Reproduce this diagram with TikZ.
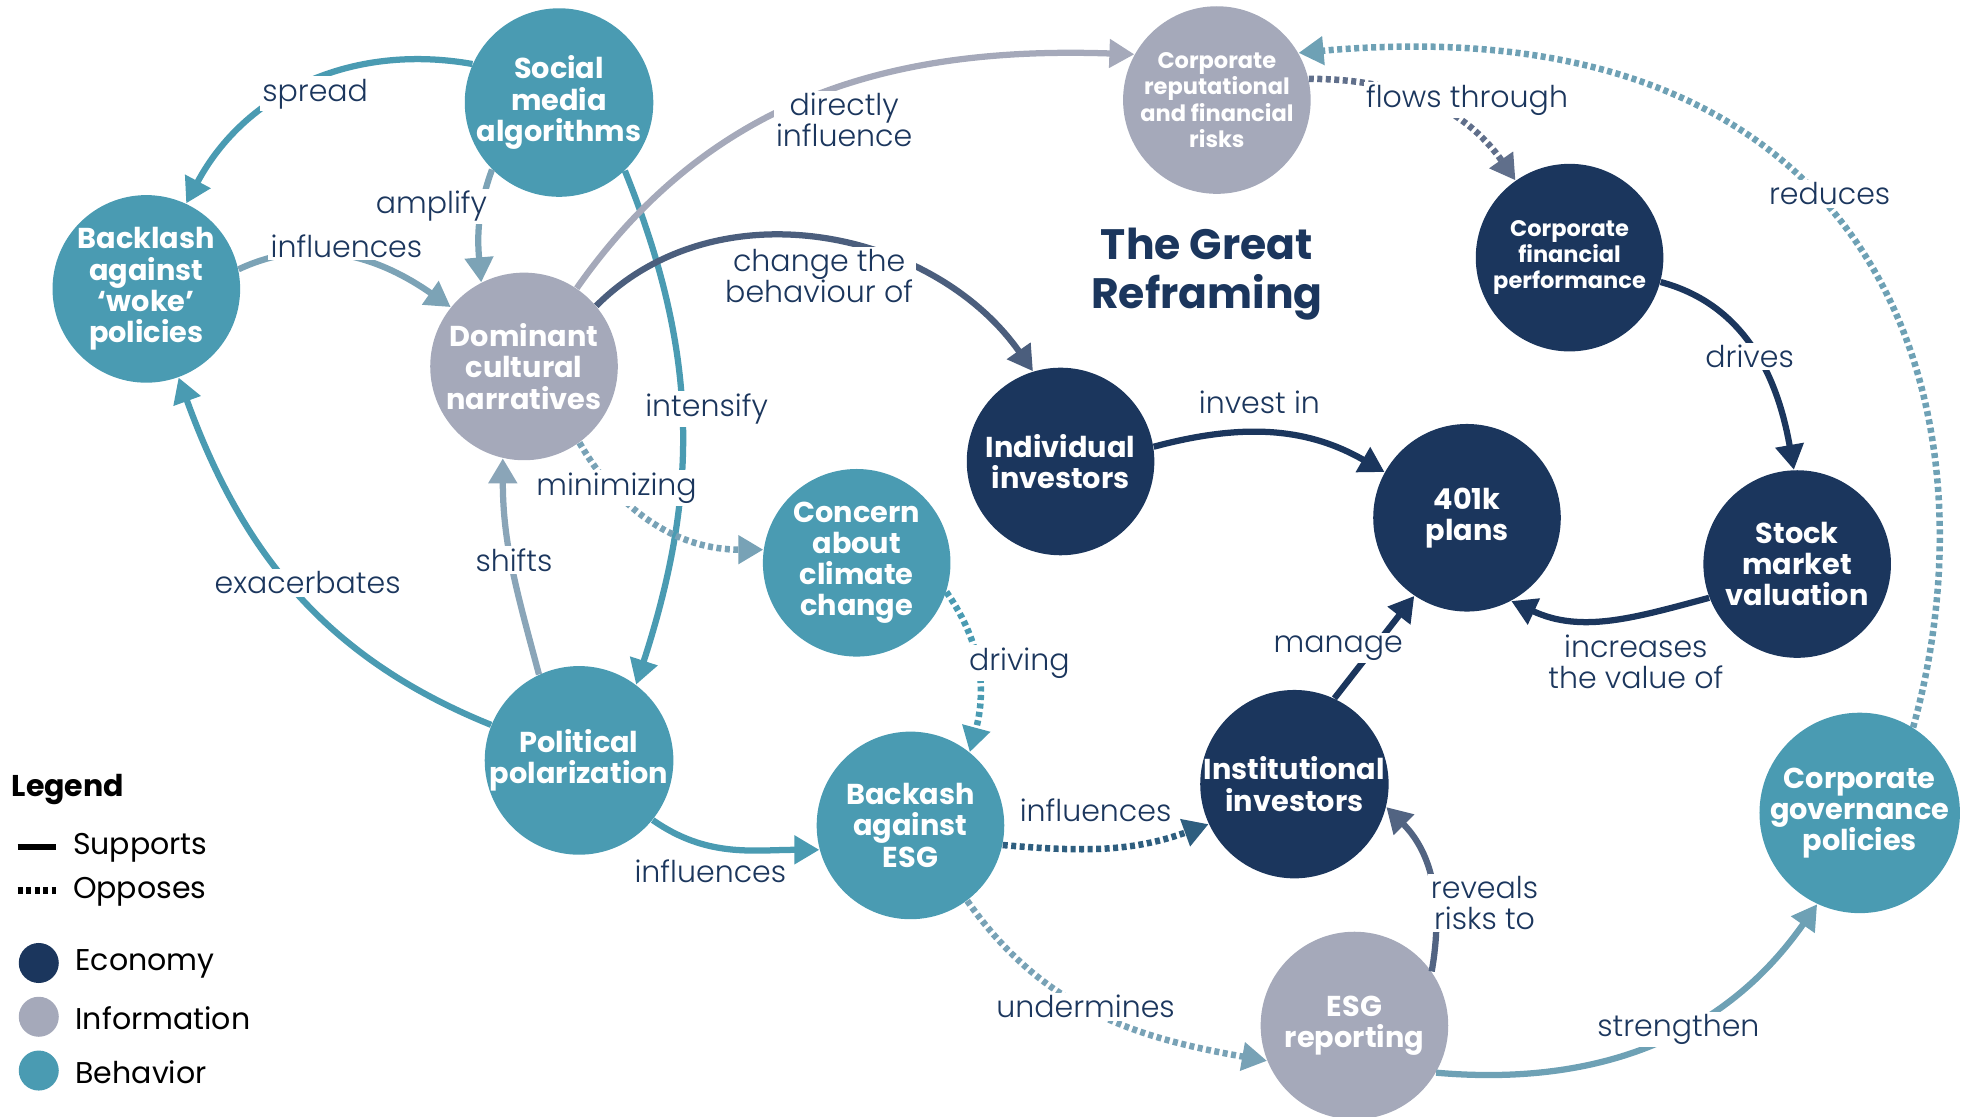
\documentclass[tikz,border=0pt]{standalone}
\usepackage{fontspec}
\setmainfont{Poppins}
\newfontfamily\lightfont{Poppins Light}
\usetikzlibrary{arrows.meta}
\definecolor{econ}{HTML}{1B365D}
\definecolor{info}{HTML}{A5A9BA}
\definecolor{behav}{HTML}{4A9BB2}

\begin{document}
\begin{tikzpicture}[x=0.5pt,y=0.5pt,
  factor/.style={circle, minimum size=75pt, inner sep=0pt, align=center, text=white,
    font=\bfseries\fontsize{11.5}{12.5}\selectfont},
  small/.style={font=\bfseries\fontsize{9}{10.5}\selectfont},
  economy/.style={factor, fill=econ},
  information/.style={factor, fill=info},
  behaviour/.style={factor, fill=behav},
  supports/.style={line width=2.5pt, -{Triangle[length=10pt,width=11pt]}},
  opposes/.style={line width=2.6pt, dash pattern=on 2pt off 1.4pt, -{Triangle[length=10pt,width=11pt]}},
  lbl/.style={fill=white, inner sep=1pt, align=center, text=econ,
    font=\lightfont\fontsize{12}{12.5}\selectfont},
  legtxt/.style={anchor=west, inner sep=0pt, font=\fontsize{12}{14}\selectfont}]
\useasboundingbox (0,0) rectangle (1568,-893);

% factors
\node[behaviour] (sma) at (447,-82) {Social\\media\\algorithms};
\node[behaviour] (bw) at (117,-231) {Backlash\\against\\‘woke’\\policies};
\node[information] (dcn) at (419,-293) {Dominant\\cultural\\narratives};
\node[information, small] (crf) at (973,-80) {Corporate\\reputational\\and financial\\risks};
\node[economy, small] (cfp) at (1255,-206) {Corporate\\financial\\performance};
\node[economy] (ii) at (848,-369) {Individual\\investors};
\node[economy] (pk) at (1173,-414) {401k\\plans};
\node[economy] (smv) at (1437,-451) {Stock\\market\\valuation};
\node[behaviour] (ccc) at (685,-450) {Concern\\about\\climate\\change};
\node[behaviour] (pp) at (463,-608) {Political\\polarization};
\node[behaviour] (bae) at (728,-660) {Backash\\against\\ESG};
\node[economy] (ins) at (1035,-627) {Institutional\\investors};
\node[behaviour] (cgp) at (1487,-650) {Corporate\\governance\\policies};
\node[information] (esg) at (1083,-820) {ESG\\reporting};

\node[text=econ, align=center, font=\bfseries\fontsize{17}{19.5}\selectfont] (title) at (965,-219) {The Great\\Reframing};

% links
\draw[supports, behav] (sma.156) to[out=170,in=62] (bw.65);
\draw[supports, behav!45!info] (sma.225) to[out=250,in=95] (dcn.117);
\draw[supports, behav!45!info] (bw.12) to[out=25,in=145] (dcn.141);
\draw[supports, behav] (sma.-46) to[out=-68,in=72] (pp.53);
\draw[supports, info] (dcn.56) to[out=55,in=178] (crf.151);
\draw[supports, econ!65!info] (dcn.40) to[out=45,in=125] (ii.107);
\draw[opposes, behav!50!info] (dcn.-54) to[out=-60,in=180] (ccc.172);
\draw[supports, info!70!behav] (pp.115) to[out=105,in=-90] (dcn.257);
\draw[supports, behav] (pp.158) to[out=158,in=-70] (bw.-70);
\draw[supports, behav] (pp.-39) to[out=-35,in=180] (bae.195);
\draw[opposes, behav] (ccc.-18) to[out=-55,in=75] (bae.51);
\draw[opposes, econ!60!behav] (bae.-12) to[out=-5,in=200] (ins.205);
\draw[supports, econ] (ins.65) -- (pk.236);
\draw[supports, econ] (ii.9) to[out=15,in=150] (pk.151);
\draw[opposes, econ!50!info] (crf.13) to[out=0,in=125] (cfp.125);
\draw[supports, econ] (cfp.-15) to[out=-15,in=100] (smv.92);
\draw[supports, econ] (smv.201) to[out=195,in=-25] (pk.-62);
\draw[supports, econ!60!info] (esg.35) to[out=80,in=-45] (ins.-14);
\draw[supports, behav!60!info] (esg.-30) to[out=-5,in=235] (cgp.245);
\draw[opposes, behav!50!info] (bae.-53) to[out=-55,in=170] (esg.202);
\draw[opposes, behav!60!info] (cgp.58) .. controls (1600,-330) and (1510,0) .. (crf.30);

% link labels
\node[lbl] (l-spread) at (252,-75) {spread};
\node[lbl] (l-amplify) at (345,-165) {amplify};
\node[lbl] (l-infl1) at (277,-197) {influences};
\node[lbl] (l-direct) at (675,-96) {directly\\influence};
\node[lbl] (l-change) at (655,-221) {change the\\behaviour of};
\node[lbl] (l-intens) at (565,-327) {intensify};
\node[lbl] (l-minim) at (493,-390) {minimizing};
\node[lbl] (l-shifts) at (411,-448) {shifts};
\node[lbl] (l-exac) at (246,-466) {exacerbates};
\node[lbl] (l-driving) at (815,-530) {driving};
\node[lbl] (l-infl2) at (568,-697) {influences};
\node[lbl] (l-infl3) at (876,-648) {influences};
\node[lbl] (l-under) at (868,-805) {undermines};
\node[lbl] (l-manage) at (1070,-518) {manage};
\node[lbl] (l-invest) at (1007,-322) {invest in};
\node[lbl] (l-flows) at (1173,-80) {flows through};
\node[lbl] (l-drives) at (1399,-285) {drives};
\node[lbl] (l-incr) at (1308,-529) {increases\\the value of};
\node[lbl] (l-reveal) at (1187,-722) {reveals\\risks to};
\node[lbl] (l-streng) at (1342,-823) {strengthen};
\node[lbl] (l-reduce) at (1463,-155) {reduces};

% legend
\node[legtxt, font=\bfseries\fontsize{12}{14}\selectfont] (legend) at (9,-631) {Legend};
\draw[line width=2.5pt] (14,-677) -- (45,-677);
\draw[line width=2.6pt, dash pattern=on 2pt off 1.4pt] (14,-712) -- (45,-712);
\node[legtxt] (l-sup) at (58,-678) {Supports};
\node[legtxt] (l-opp) at (58,-713) {Opposes};
\foreach \c/\t/\y in {econ/Economy/770, info/Information/813, behav/Behavior/856}{
  \fill[\c] (31,-\y) circle (16);
  \node[legtxt] at (60,-\y-1) {\t};
}
\end{tikzpicture}
\end{document}
